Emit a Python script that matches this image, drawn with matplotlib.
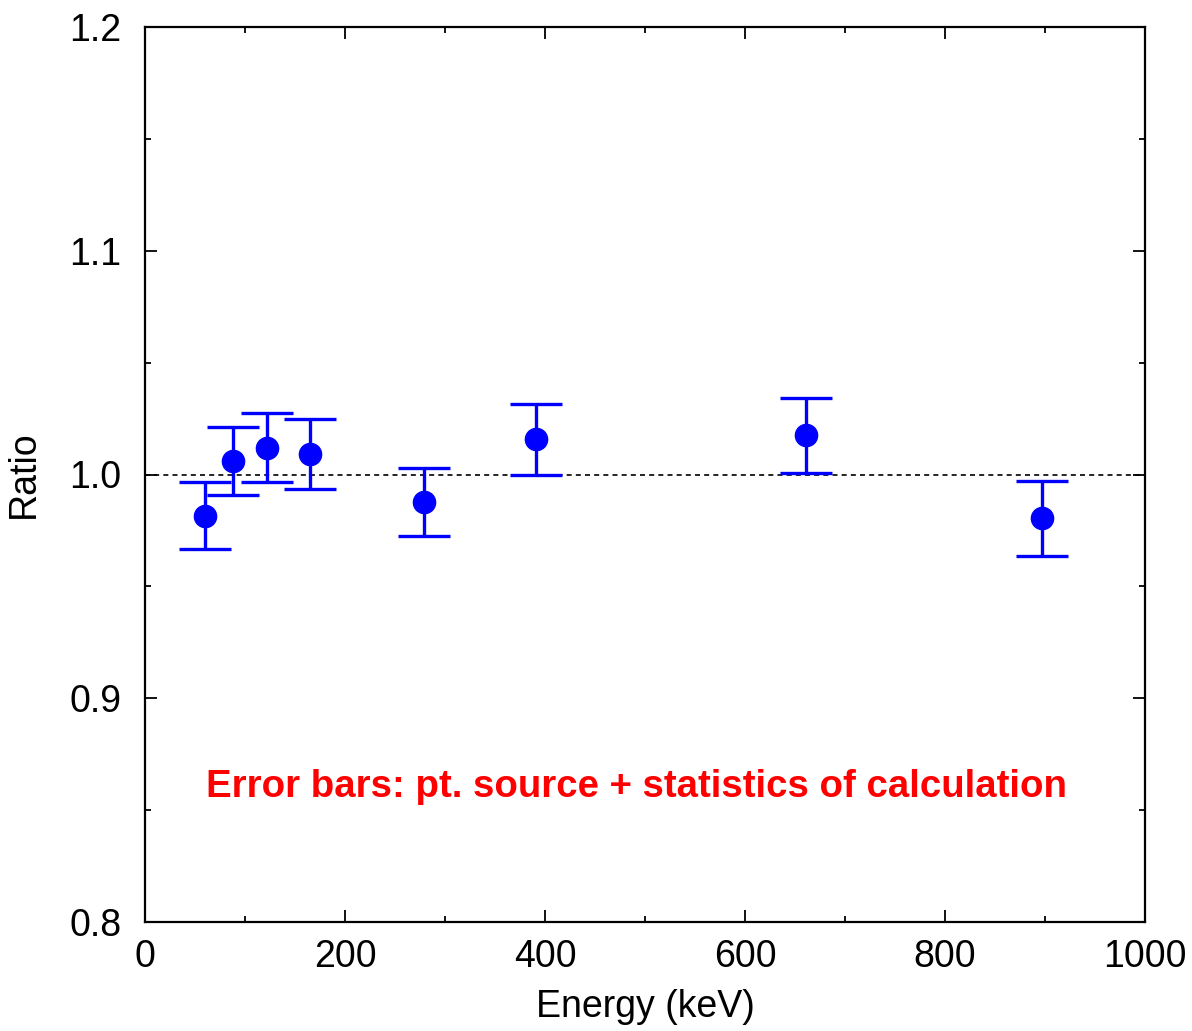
import numpy as np
from matplotlib import pyplot as plt
from matplotlib.ticker import MultipleLocator

energy = [60, 88, 122, 165, 279, 391, 661, 897]
ratio = [0.9815, 1.0060, 1.0120, 1.0093, 0.9875, 1.0160, 1.0175, 0.9805]
err_up = [0.0150, 0.0153, 0.0157, 0.0155, 0.0153, 0.0155, 0.0167, 0.0165]
err_dn = [0.0150, 0.0152, 0.0155, 0.0157, 0.0152, 0.0160, 0.0168, 0.0168]

plt.rcParams['font.family'] = ['Liberation Sans', 'DejaVu Sans']

fig = plt.figure(figsize=(11.92, 10.31), dpi=100)
ax = fig.add_axes([145/1192, 1-922/1031, 1000/1192, 895/1031])

ax.axhline(1.0, color='black', lw=1.2, ls=(0, (3, 2.5)), zorder=1)
ax.errorbar(energy, ratio, yerr=[err_dn, err_up], fmt='o', color='#0000ff',
            ms=16, elinewidth=2.4, capsize=18.5, capthick=2.4, zorder=3)

ax.set_xlim(0, 1000)
ax.set_ylim(0.8, 1.2)
ax.xaxis.set_major_locator(MultipleLocator(200))
ax.xaxis.set_minor_locator(MultipleLocator(100))
ax.yaxis.set_major_locator(MultipleLocator(0.1))
ax.yaxis.set_minor_locator(MultipleLocator(0.05))
ax.yaxis.set_major_formatter(plt.FormatStrFormatter('%.1f'))

ax.tick_params(which='both', direction='in', top=True, right=True, labelsize=27, width=1.3)
ax.tick_params(which='major', length=8.5)
ax.tick_params(axis='x', which='major', pad=12)
ax.tick_params(axis='y', which='major', pad=17)
ax.tick_params(which='minor', length=4.3)
for s in ax.spines.values():
    s.set_linewidth(1.6)

ax.set_xlabel('Energy (keV)', fontsize=27, labelpad=10)
ax.set_ylabel('Ratio', fontsize=27, labelpad=20)

ax.text(492, 0.8603, 'Error bars: pt. source + statistics of calculation', color='#ff0000',
        fontsize=27.6, fontweight='bold', ha='center', va='center')

fig.savefig('out.png', dpi=100)
